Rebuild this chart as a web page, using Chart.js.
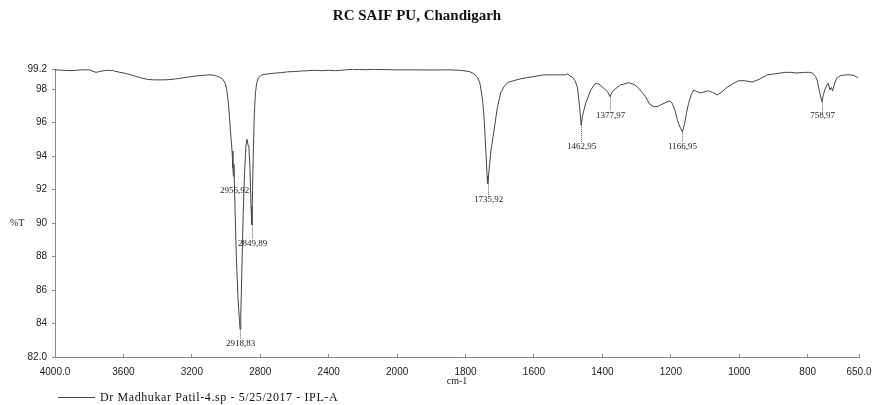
<!DOCTYPE html>
<html>
<head>
<meta charset="utf-8">
<script src="https://cdn.jsdelivr.net/npm/chart.js@4.4.1/dist/chart.umd.min.js"></script>
<style>
  html, body { margin: 0; padding: 0; background: #fff; }
  #wrap { width: 873px; height: 405px; position: relative; }
</style>
</head>
<body>
<div id="wrap"><canvas id="c" width="873" height="405"></canvas></div>
<script>
// ---------- DATA ----------
const chartTitle = "RC SAIF PU, Chandigarh";
const seriesName = "Dr Madhukar Patil-4.sp - 5/25/2017 - IPL-A";
const xAxisTitle = "cm-1";
const yAxisTitle = "%T";

const wavenumbers = [
  4000, 3950, 3900, 3850, 3800, 3760, 3740, 3700, 3660, 3620, 3580, 3540, 3500, 3460, 3420,
  3380, 3340, 3300, 3260, 3220, 3180, 3140, 3100, 3070, 3040, 3020, 3005, 2995, 2985, 2975,
  2965, 2960, 2957, 2954, 2948, 2940, 2930, 2922, 2918, 2914, 2908, 2900, 2892, 2884, 2878,
  2872, 2866, 2860, 2854, 2849, 2845, 2840, 2835, 2828, 2820, 2810, 2790, 2760, 2720, 2680,
  2640, 2600, 2560, 2520, 2480, 2440, 2400, 2360, 2330, 2300, 2260, 2220, 2180, 2140, 2100,
  2060, 2020, 2000, 1950, 1900, 1850, 1813, 1790, 1778, 1765, 1758, 1750, 1745, 1740, 1737,
  1735, 1732, 1726, 1717, 1707, 1697, 1686, 1676, 1660, 1638, 1600, 1571, 1540, 1522, 1507,
  1501, 1496, 1488, 1480, 1473, 1468, 1462, 1458, 1449, 1434, 1420, 1410, 1396, 1385, 1378,
  1372, 1366, 1347, 1323, 1305, 1294, 1284, 1274, 1262, 1250, 1240, 1230, 1215, 1206, 1200,
  1196, 1188, 1182, 1175, 1166, 1160, 1154, 1148, 1140, 1133, 1124, 1114, 1100, 1090, 1078,
  1064, 1050, 1036, 1020, 1003, 985, 962, 940, 918, 900, 866, 850, 831, 810, 795,
  785, 777, 772, 766, 761, 758, 755, 750, 744, 740, 735, 731, 727, 722, 715,
  705, 690, 675, 665, 655, 652
];
const transmittance = [
  99.15, 99.12, 99.10, 99.15, 99.15, 99.00, 99.05, 99.12, 99.10, 99.00, 98.92, 98.80, 98.68, 98.58, 98.55,
  98.55, 98.56, 98.60, 98.66, 98.72, 98.78, 98.82, 98.85, 98.83, 98.72, 98.60, 98.35, 97.90, 97.00, 95.60,
  94.30, 93.30, 92.80, 93.50, 91.00, 88.00, 85.50, 84.20, 83.65, 84.50, 87.00, 90.50, 93.00, 94.60, 95.00,
  94.70, 94.50, 93.20, 91.00, 89.90, 92.00, 94.50, 96.50, 97.80, 98.40, 98.70, 98.85, 98.90, 98.95, 98.98,
  99.03, 99.05, 99.08, 99.10, 99.12, 99.10, 99.12, 99.10, 99.12, 99.15, 99.18, 99.17, 99.16, 99.18, 99.17,
  99.16, 99.15, 99.15, 99.15, 99.14, 99.15, 99.12, 99.05, 98.95, 98.70, 98.35, 97.30, 96.00, 94.00, 92.80,
  92.35, 93.00, 94.30, 95.50, 96.90, 97.80, 98.20, 98.40, 98.50, 98.62, 98.75, 98.85, 98.85, 98.85, 98.85,
  98.92, 98.80, 98.72, 98.50, 98.10, 97.20, 95.85, 96.40, 97.15, 97.95, 98.35, 98.30, 98.05, 97.85, 97.55,
  97.80, 97.95, 98.25, 98.38, 98.25, 98.05, 97.80, 97.55, 97.10, 96.95, 96.95, 97.05, 97.20, 97.28, 97.25,
  97.15, 96.75, 96.25, 95.80, 95.45, 95.90, 96.60, 97.15, 97.70, 97.95, 97.85, 97.77, 97.85, 97.90, 97.80,
  97.65, 97.85, 98.10, 98.30, 98.50, 98.50, 98.42, 98.60, 98.85, 98.90, 99.00, 99.00, 98.96, 99.00, 99.00,
  98.95, 98.75, 98.50, 97.90, 97.45, 97.25, 97.60, 97.95, 98.25, 98.35, 97.95, 98.10, 97.90, 98.30, 98.65,
  98.80, 98.85, 98.85, 98.82, 98.70, 98.65
];

// peak annotations
const peakWavenumbers = [2956, 2918, 2849, 1735, 1462, 1377, 1166, 758];
const peakValues      = [92.8, 83.65, 89.9, 92.35, 95.85, 97.55, 95.45, 97.25];
const peakLabels      = ["2956,92", "2918,83", "2849,89", "1735,92", "1462,95", "1377,97", "1166,95", "758,97"];
const peakLabelLevels = [91.91, 82.78, 88.75, 91.38, 94.54, 96.39, 94.54, 96.39];

// axis ticks
const xTickWavenumbers = [4000, 3600, 3200, 2800, 2400, 2000, 1800, 1600, 1400, 1200, 1000, 800, 650];
const xTickLabels = ["4000.0", "3600", "3200", "2800", "2400", "2000", "1800", "1600", "1400", "1200", "1000", "800", "650.0"];
const yTickValues = [82, 84, 86, 88, 90, 92, 94, 96, 98, 99.2];
const yTickLabels = ["82.0", "84", "86", "88", "90", "92", "94", "96", "98", "99.2"];

// ---------- axis transform (scale changes x2 below 2000 cm-1) ----------
function toU(w) { return w >= 2000 ? (4000 - w) / 2 : 1000 + (2000 - w); }

const points = wavenumbers.map((w, i) => ({ x: toU(w), y: transmittance[i] }));

const decorPlugin = {
  id: 'decor',
  afterDatasetsDraw(chart) {
    const ctx = chart.ctx;
    const xs = chart.scales.x, ys = chart.scales.y;
    ctx.save();
    // peak labels
    ctx.font = '9px "Liberation Serif", serif';
    ctx.textAlign = 'center';
    ctx.textBaseline = 'middle';
    peakWavenumbers.forEach((w, i) => {
      const px = Math.round(xs.getPixelForValue(toU(w))) + 0.5;
      const py = ys.getPixelForValue(peakValues[i]);
      const ly = ys.getPixelForValue(peakLabelLevels[i]);
      ctx.strokeStyle = '#666';
      ctx.lineWidth = 1;
      ctx.setLineDash([1, 1]);
      ctx.beginPath();
      ctx.moveTo(px, py);
      ctx.lineTo(px, ly - 5);
      ctx.stroke();
      ctx.setLineDash([]);
      ctx.fillStyle = '#222';
      ctx.fillText(peakLabels[i], px, ly);
    });
    // title
    ctx.font = 'bold 15px "Liberation Serif", serif';
    ctx.fillStyle = '#111';
    ctx.fillText(chartTitle, 417, 16);
    // y axis label
    ctx.font = '10px "Liberation Serif", serif';
    ctx.textAlign = 'left';
    ctx.fillStyle = '#222';
    ctx.fillText(yAxisTitle, 10, ys.getPixelForValue(90));
    // legend
    ctx.strokeStyle = '#444';
    ctx.lineWidth = 1;
    ctx.beginPath();
    ctx.moveTo(58, 397.5);
    ctx.lineTo(95, 397.5);
    ctx.stroke();
    ctx.font = '12px "Liberation Serif", serif';
    const w0 = ctx.measureText(seriesName).width;
    const spacing = Math.max(0, (238 - w0) / seriesName.length);
    ctx.letterSpacing = spacing.toFixed(2) + 'px';
    ctx.fillStyle = '#111';
    ctx.fillText(seriesName, 100, 398);
    ctx.restore();
  }
};

new Chart(document.getElementById('c'), {
  type: 'line',
  data: {
    datasets: [{
      label: seriesName,
      data: points,
      borderColor: '#444',
      borderWidth: 1,
      pointRadius: 0,
      tension: 0,
      fill: false
    }]
  },
  options: {
    responsive: false,
    animation: false,
    layout: { padding: { top: 69, bottom: 18, left: 0, right: 14 } },
    plugins: {
      legend: { display: false },
      title: { display: false },
      tooltip: { enabled: false }
    },
    scales: {
      x: {
        type: 'linear',
        min: 0,
        max: toU(650),
        afterBuildTicks: s => { s.ticks = xTickWavenumbers.map(w => ({ value: toU(w) })); },
        afterFit: s => { s.height = 30; s.paddingRight = 0; s.paddingLeft = 0; },
        ticks: {
          autoSkip: false,
          maxRotation: 0,
          padding: 12,
          color: '#222',
          font: { family: '"Liberation Sans", sans-serif', size: 10 },
          callback: (v, i) => xTickLabels[i]
        },
        grid: { display: true, drawOnChartArea: false, drawTicks: true, tickLength: -3, color: '#888' },
        border: { display: true, color: '#888', width: 1 },
        title: {
          display: true, text: xAxisTitle, color: '#222',
          font: { family: '"Liberation Serif", serif', size: 10 },
          padding: { top: 0, bottom: 0 }
        }
      },
      y: {
        type: 'linear',
        min: 82,
        max: 99.2,
        afterBuildTicks: s => { s.ticks = yTickValues.map(v => ({ value: v })); },
        afterFit: s => { s.width = 55; },
        ticks: {
          autoSkip: false,
          padding: 5,
          color: '#222',
          font: { family: '"Liberation Sans", sans-serif', size: 10 },
          callback: (v, i) => yTickLabels[i]
        },
        grid: { display: true, drawOnChartArea: false, drawTicks: true, tickLength: 3, color: '#888' },
        border: { display: true, color: '#888', width: 1 }
      }
    }
  },
  plugins: [decorPlugin]
});
</script>
</body>
</html>
